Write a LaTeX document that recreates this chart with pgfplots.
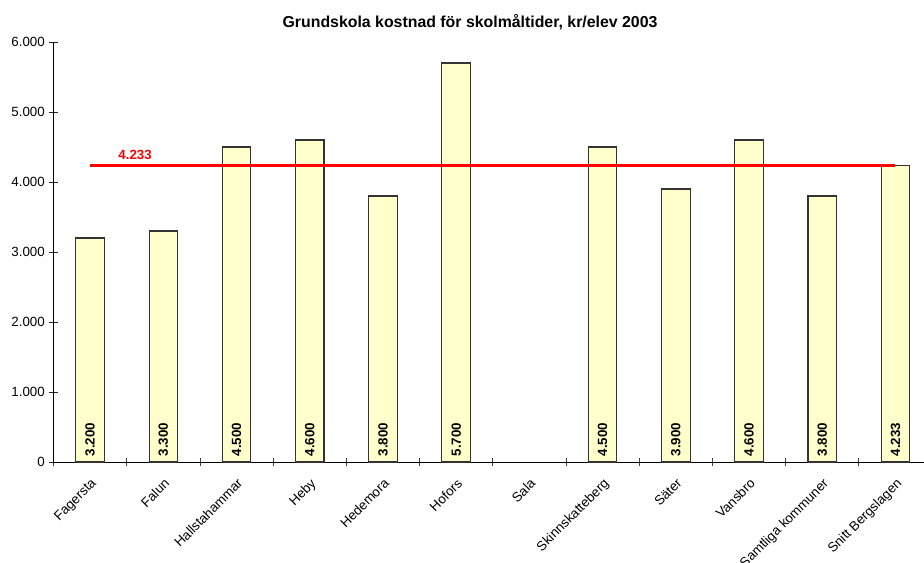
\documentclass[border=0pt]{standalone}
\usepackage{fontspec}
\setmainfont{Liberation Sans}
\usepackage{pgfplots}
\pgfplotsset{compat=1.18}

\definecolor{barfill}{HTML}{FFFFCC}

\begin{document}
\begin{tikzpicture}
\begin{axis}[
  at={(40.125pt,75.75pt)}, anchor=south west,
  scale only axis, width=652.875pt, height=315pt,
  xmin=-0.5, xmax=11.39, ymin=0, ymax=6000,
  axis x line*=bottom, axis y line*=left, axis line style={-, black},
  every axis title/.style={at={(0.4785,1)}, anchor=base, yshift=11pt,
    font=\bfseries\fontsize{11.9}{14}\selectfont},
  title={Grundskola kostnad för skolmåltider, kr/elev 2003},
  ytick={0,1000,...,6000},
  scaled y ticks=false,
  /pgf/number format/.cd, fixed, 1000 sep={.}, assume math mode=true,
  /pgfplots/.cd,
  tick align=center, tick style={black!85, line width=0.6pt},
  major tick length=6pt, minor tick length=6pt,
  xtick={0,...,11},
  x tick style={draw=none},
  minor xtick={-0.5,0.5,...,11.5},
  minor x tick style={draw=black!75},
  xticklabels={Fagersta, Falun, Hallstahammar, Heby, Hedemora, Hofors, Sala,
    Skinnskatteberg, Säter, Vansbro, Samtliga kommuner, Snitt Bergslagen},
  xticklabel style={yshift=-7pt, rotate=45, anchor=north east, inner sep=1pt,
    font=\fontsize{10}{12}\selectfont},
  yticklabel style={font=\fontsize{10}{12}\selectfont},
  clip=false,
]
\addplot[ybar, bar width=0.39, fill=barfill, draw=black!80, line width=0.8pt,
  nodes near coords,
  visualization depends on=y \as \rawy,
  every node near coord/.append style={shift={(axis direction cs:0,-\rawy)},
    rotate=90, anchor=west, inner sep=4pt, text=black,
    font=\bfseries\fontsize{10}{12}\selectfont}]
  coordinates {(0,3200) (1,3300) (2,4500) (3,4600) (4,3800) (5,5700)
    (7,4500) (8,3900) (9,4600) (10,3800) (11,4233)};
\addplot[red, line width=2.5pt, no marks] coordinates {(0,4233) (11,4233)};
\addplot[draw=none, no marks, nodes near coords,
  every node near coord/.append style={text=red, anchor=base, inner sep=0pt,
    xshift=33.75pt, yshift=4.8pt, font=\bfseries\fontsize{10}{12}\selectfont}]
  coordinates {(0,4233)};
\end{axis}
\pgfresetboundingbox
\path[use as bounding box] (0,0) rectangle (693pt,422.25pt);
\end{tikzpicture}
\end{document}
